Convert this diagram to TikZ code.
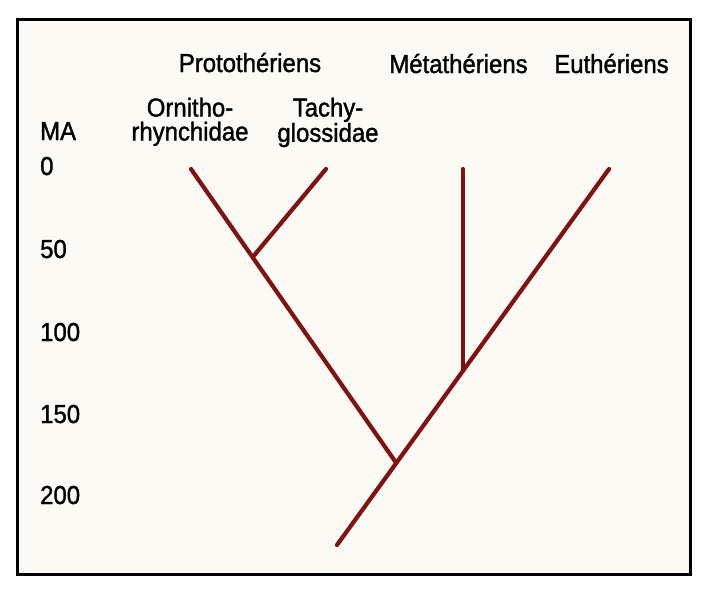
\documentclass[tikz,border=0pt]{standalone}
\usepackage{fontspec}
\setmainfont{Liberation Sans}[FakeStretch=0.92,FakeBold=1.3]
\usetikzlibrary{calc}
\definecolor{branchred}{RGB}{128,18,18}
\definecolor{paper}{RGB}{252,250,245}
\begin{document}
\begin{tikzpicture}[x=1pt,y=-1pt,
  branch/.style={draw=branchred,line width=4.2pt,line cap=round},
  lbl/.style={inner sep=0pt,font=\fontsize{26}{24}\selectfont},
  head/.style={lbl,anchor=base},
  twoline/.style={lbl,anchor=north,align=center},
  axis/.style={lbl,anchor=base west},
  frame/.style={draw=black,line width=3pt,fill=paper}]
\useasboundingbox (0,0) rectangle (704,592);
\path[frame] (17,19) rectangle (690,574);

% headings
\node[head] (proto) at (250,72) {Protothériens};
\node[head] (meta) at (458.5,73) {Métathériens};
\node[head] (euth) at (611.5,73) {Euthériens};
\node[twoline] (orni) at (190,97.5) {Ornitho-\\rhynchidae};
\node[twoline] (tachy) at (328,97.5) {Tachy-\\glossidae};

% time axis
\node[axis] (ma) at (40,140) {MA};
\node[axis] (t0) at (40,175) {0};
\node[axis] (t50) at (40,258) {50};
\node[axis] (t100) at (40,341) {100};
\node[axis] (t150) at (40,423) {150};
\node[axis] (t200) at (40,504) {200};

% tree
\coordinate (base) at (337,545);
\coordinate (tipE) at (609,169);
\coordinate (tipO) at (191,169);
\coordinate (tipT) at (326,169);
\coordinate (root) at ($(base)!0.218!(tipE)$);
\coordinate (nME) at ($(base)!0.463!(tipE)$);
\coordinate (tipM) at (nME |- tipE);
\coordinate (nOT) at ($(tipO)!0.3!(root)$);

\draw[branch] (base) -- (tipE);
\draw[branch] (root) -- (tipO);
\draw[branch] (nOT) -- (tipT);
\draw[branch] (nME) -- (tipM);
\end{tikzpicture}
\end{document}
